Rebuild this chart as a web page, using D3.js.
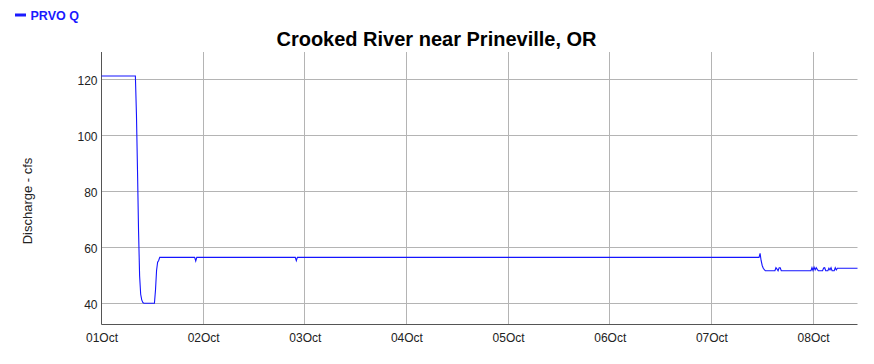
<!DOCTYPE html>
<html>
<head>
<meta charset="utf-8">
<script src="https://cdn.jsdelivr.net/npm/d3@7"></script>
<style>
  body { margin: 0; background: #fff; }
  text { font-family: "Liberation Sans", Arial, sans-serif; }
</style>
</head>
<body>
<div id="chart"></div>
<script>
const WIDTH = 874;
const HEIGHT = 364;

// Reading times (15 min gage data, only the break points)
const times = [
  "2023-10-01 00:00", "2023-10-01 08:00", "2023-10-01 08:15", "2023-10-01 08:30",
  "2023-10-01 08:45", "2023-10-01 09:00", "2023-10-01 09:15", "2023-10-01 09:30",
  "2023-10-01 09:45", "2023-10-01 10:00", "2023-10-01 12:30", "2023-10-01 12:45",
  "2023-10-01 13:00", "2023-10-01 13:15", "2023-10-01 13:30", "2023-10-01 13:45",
  "2023-10-01 22:00", "2023-10-01 22:15", "2023-10-01 22:30",
  "2023-10-02 21:45", "2023-10-02 22:00", "2023-10-02 22:15",
  "2023-10-07 11:15", "2023-10-07 11:30", "2023-10-07 11:45", "2023-10-07 12:00",
  "2023-10-07 12:15", "2023-10-07 12:30", "2023-10-07 12:45", "2023-10-07 15:00",
  "2023-10-07 15:15", "2023-10-07 15:30", "2023-10-07 15:45", "2023-10-07 16:00",
  "2023-10-07 16:15", "2023-10-07 16:30", "2023-10-07 23:30", "2023-10-07 23:45",
  "2023-10-08 00:00", "2023-10-08 00:15", "2023-10-08 00:30", "2023-10-08 00:45",
  "2023-10-08 01:00", "2023-10-08 01:15", "2023-10-08 02:15", "2023-10-08 02:30",
  "2023-10-08 02:45", "2023-10-08 03:00", "2023-10-08 03:30", "2023-10-08 03:45",
  "2023-10-08 04:00", "2023-10-08 04:15", "2023-10-08 04:30", "2023-10-08 05:00",
  "2023-10-08 05:15", "2023-10-08 05:30", "2023-10-08 05:45", "2023-10-08 10:30"
];

// Discharge, cfs
const discharge = [
  121.6, 121.6, 108, 88,
  66, 50, 43.5, 41.5,
  40.6, 40.3, 40.3, 45,
  52, 55, 55.6, 56.7,
  56.7, 55.4, 56.7,
  56.7, 55.5, 56.7,
  56.7, 58.1, 55.5, 53.8,
  52.8, 52.3, 51.9, 51.9,
  53, 52.5, 51.9, 53,
  53, 51.9, 51.9, 53,
  52, 53.2, 52.2, 53,
  52.4, 51.9, 51.9, 52.9,
  53, 51.9, 51.9, 52.8,
  52.2, 53, 51.9, 51.9,
  53, 52.2, 52.8, 52.8
];

const yTicks = [40, 60, 80, 100, 120];
const xDomain = ["2023-10-01 00:00", "2023-10-08 10:30"];
const yDomain = [32.5, 130];

const seriesName = "PRVO Q";
const titleText = "Crooked River near Prineville, OR";
const yLabel = "Discharge - cfs";

const parseTime = d3.timeParse("%Y-%m-%d %H:%M");
const data = times.map((t, i) => ({ date: parseTime(t), value: discharge[i] }));

const margin = { top: 52, right: 16.5, bottom: 39.5, left: 101.5 };

const svg = d3.select('#chart')
  .append('svg')
  .attr('width', WIDTH)
  .attr('height', HEIGHT);

const x = d3.scaleTime()
  .domain(xDomain.map(parseTime))
  .range([margin.left, WIDTH - margin.right]);

const y = d3.scaleLinear()
  .domain(yDomain)
  .range([HEIGHT - margin.bottom, margin.top]);

const crisp = v => Math.round(v - 0.5) + 0.5;

// grid
const dayTicks = x.ticks(d3.timeDay.every(1));
svg.append('g')
  .selectAll('line')
  .data(dayTicks.filter(d => x(d) > margin.left + 1))
  .enter()
  .append('line')
  .attr('x1', d => crisp(x(d)))
  .attr('x2', d => crisp(x(d)))
  .attr('y1', margin.top)
  .attr('y2', HEIGHT - margin.bottom)
  .attr('stroke', '#b4b4b4')
  .attr('stroke-width', 1);

svg.append('g')
  .selectAll('line')
  .data(yTicks)
  .enter()
  .append('line')
  .attr('x1', margin.left)
  .attr('x2', WIDTH - margin.right)
  .attr('y1', d => crisp(y(d)))
  .attr('y2', d => crisp(y(d)))
  .attr('stroke', '#b4b4b4')
  .attr('stroke-width', 1);

// axes
const xAxis = d3.axisBottom(x)
  .tickValues(dayTicks)
  .tickSize(0)
  .tickPadding(6)
  .tickFormat(d3.timeFormat('%dOct'));

const yAxis = d3.axisLeft(y)
  .tickValues(yTicks)
  .tickSize(0)
  .tickPadding(4);

const gx = svg.append('g')
  .attr('transform', `translate(0, ${HEIGHT - margin.bottom})`)
  .call(xAxis);
gx.select('.domain').attr('stroke', '#555').attr('d', `M${margin.left},0H${WIDTH - margin.right}`);
gx.selectAll('text')
  .style('font-size', '12px')
  .attr('fill', '#222')
  .attr('dy', '0.95em');

const gy = svg.append('g')
  .attr('transform', `translate(${margin.left}, 0)`)
  .call(yAxis);
gy.select('.domain').attr('stroke', '#555').attr('d', `M0,${margin.top}V${HEIGHT - margin.bottom}`);
gy.selectAll('text')
  .style('font-size', '12px')
  .attr('fill', '#222')
  .attr('dy', '0.42em');

// line
const line = d3.line()
  .x(d => x(d.date))
  .y(d => y(d.value));

svg.append('path')
  .datum(data)
  .attr('transform', 'translate(0, 0.5)')
  .attr('d', line)
  .attr('fill', 'none')
  .attr('stroke', '#1414ff')
  .attr('stroke-width', 1.1);

// title
svg.append('text')
  .attr('x', 436.5)
  .attr('y', 46)
  .attr('text-anchor', 'middle')
  .style('font-size', '20px')
  .style('font-weight', 'bold')
  .attr('fill', '#000')
  .text(titleText);

// y label
svg.append('text')
  .attr('transform', 'translate(32, 201) rotate(-90)')
  .attr('text-anchor', 'middle')
  .style('font-size', '13px')
  .attr('fill', '#222')
  .text(yLabel);

// legend
const legend = svg.append('g').attr('transform', 'translate(15, 15)');
legend.append('line')
  .attr('x1', 0).attr('x2', 11)
  .attr('y1', 0).attr('y2', 0)
  .attr('stroke', '#1a1aff')
  .attr('stroke-width', 3);
legend.append('text')
  .attr('x', 15.5)
  .attr('y', 4.5)
  .style('font-size', '12.5px')
  .style('font-weight', 'bold')
  .attr('fill', '#1a1aff')
  .text(seriesName);
</script>
</body>
</html>
